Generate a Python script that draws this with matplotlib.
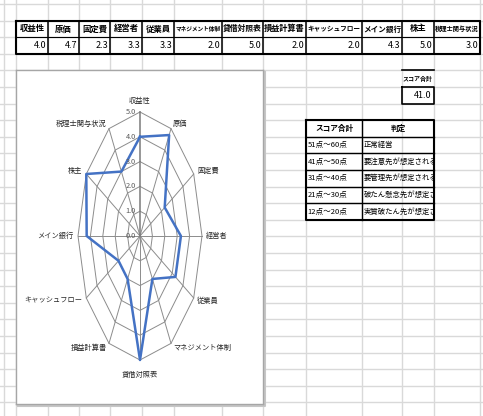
import matplotlib.pyplot as plt
import numpy as np
from matplotlib.transforms import Bbox, TransformedBbox

plt.rcParams['font.family'] = ['Noto Sans CJK JP', 'DejaVu Sans']

# データ
categories = ['収益性', '原価', '固定費', '経営者', '従業員', 'マネジメント体制',
              '貸借対照表', '損益計算書', 'キャッシュフロー', 'メイン銀行', '株主', '税理士関与状況']
scores = [4.0, 4.7, 2.3, 3.3, 3.3, 2.0, 5.0, 2.0, 2.0, 4.3, 5.0, 3.0]
total_score = 41.0
score_ranges = ['51点～60点', '41点～50点', '31点～40点', '21点～30点', '12点～20点']
judgements = ['正常経営', '要注意先が想定される', '要管理先が想定される',
              '破たん懸念先が想定される', '実質破たん先が想定される']
ticks = [0.0, 1.0, 2.0, 3.0, 4.0, 5.0]

W, H = 483, 416
fig = plt.figure(figsize=(W / 100, H / 100), dpi=100)
sheet = fig.add_axes([0, 0, 1, 1])
sheet.set_xlim(0, W)
sheet.set_ylim(H, 0)
sheet.axis('off')

# シートの枠線
col_x = [4, 16, 48, 79, 110, 142, 174, 222, 263, 306, 362, 402, 434, 480]
row_h = 16.6
row_y = 4 + row_h * np.arange(26)
grid_c = '#d9d9d9'
for x in col_x:
    sheet.plot([x, x], [0, H], color=grid_c, lw=1, zorder=1)
for y in row_y:
    sheet.plot([0, W], [y, y], color=grid_c, lw=1, zorder=1)


def box(x0, x1, y0, y1, lw=1.0):
    sheet.plot([x0, x1, x1, x0, x0], [y0, y0, y1, y1, y0], color='black', lw=lw, zorder=3)


# 上の表
hx = col_x[1:]
y0, y1, y2 = row_y[1], row_y[2], row_y[3]
for i, (name, v) in enumerate(zip(categories, scores)):
    xl, xr = hx[i], hx[i + 1]
    fs = min(6.0, (xr - xl) / (len(name) * 1.39) * 0.95)
    sheet.text((xl + xr) / 2, (y0 + y1) / 2, name, ha='center', va='center',
               fontsize=fs, fontweight='bold', zorder=4)
    sheet.text(xr - 2, (y1 + y2) / 2, f'{v:.1f}', ha='right', va='center',
               fontsize=6.5, zorder=4)
    sheet.plot([xr, xr], [y0, y2], color='black', lw=1.1, zorder=3)
sheet.plot([hx[0], hx[-1]], [y1, y1], color='black', lw=0.8, zorder=3)
box(hx[0], hx[-1], y0, y2, lw=1.5)

# スコア合計
sx0, sx1 = col_x[11], col_x[12]
sheet.plot([sx0, sx1], [row_y[4], row_y[4]], color='black', lw=1.2, zorder=3)
sheet.text((sx0 + sx1) / 2, (row_y[4] + row_y[5]) / 2, 'スコア合計', ha='center', va='center',
           fontsize=4.3, fontweight='bold', zorder=4)
box(sx0, sx1, row_y[5], row_y[6], lw=1.2)
sheet.text(sx1 - 2, (row_y[5] + row_y[6]) / 2, f'{total_score:.1f}', ha='right', va='center',
           fontsize=6.5, zorder=4)

# 判定表
jx0, jx1, jx2 = col_x[9], col_x[10], col_x[12]
ty = row_y[7:14]
sheet.text((jx0 + jx1) / 2, (ty[0] + ty[1]) / 2, 'スコア合計', ha='center', va='center',
           fontsize=5.5, fontweight='bold', zorder=4)
sheet.text((jx1 + jx2) / 2, (ty[0] + ty[1]) / 2, '判定', ha='center', va='center',
           fontsize=5.5, fontweight='bold', zorder=4)
for k, (rng, jd) in enumerate(zip(score_ranges, judgements)):
    ya, yb = ty[k + 1], ty[k + 2]
    sheet.text(jx0 + 1.5, (ya + yb) / 2, rng, ha='left', va='center', fontsize=5.5, zorder=4)
    t = sheet.text(jx1 + 1.5, (ya + yb) / 2, jd, ha='left', va='center', fontsize=5.3, zorder=4)
    # セル幅で切る
    t.set_clip_box(TransformedBbox(Bbox.from_extents(jx1, ya, jx2 - 1, yb), sheet.transData))
    t.set_clip_on(True)
    sheet.plot([jx0, jx2], [ya, ya], color='black', lw=1.0, zorder=3)
sheet.plot([jx1, jx1], [ty[0], ty[-1]], color='black', lw=1.0, zorder=3)
box(jx0, jx2, ty[0], ty[-1], lw=1.5)

# レーダーチャート
cl, cr, ct, cb = 16, 263, row_y[4], 404
cx, cy = 140, 236
ux, uy = 62 / 5, 124 / 5
sheet.plot([cl + 2, cr + 1.5, cr + 1.5], [cb + 1.5, cb + 1.5, ct + 2], color='#c6c6c6', lw=1.5, zorder=2)
ax = fig.add_axes([cl / W, 1 - cb / H, (cr - cl) / W, (cb - ct) / H])
ax.set_xlim((cl - cx) / ux, (cr - cx) / ux)
ax.set_ylim(-(cb - cy) / uy, (cy - ct) / uy)
ax.set_xticks([])
ax.set_yticks([])
for sp in ax.spines.values():
    sp.set_color('#a6a6a6')
    sp.set_linewidth(1)

angles = np.linspace(0, 2 * np.pi, len(categories), endpoint=False)
ring_ang = np.append(angles, angles[0])
for r in ticks[1:]:
    ax.plot(r * np.sin(ring_ang), r * np.cos(ring_ang), color='#8c8c8c', lw=0.7)
for ang in angles[1:]:
    ax.plot([0, 5 * np.sin(ang)], [0, 5 * np.cos(ang)], color='#8c8c8c', lw=0.7)
ax.plot([0, 0], [0, 5], color='#7a7a7a', lw=1.1)

vals = np.append(scores, scores[0])
ax.plot(vals * np.sin(ring_ang), vals * np.cos(ring_ang), color='#4472C4', lw=1.8)

for r in ticks:
    ax.annotate(f'{r:.1f}', (0, r), xytext=(-3, 0), textcoords='offset points',
                ha='right', va='center', fontsize=5.3, color='#595959')

for ang, name in zip(angles, categories):
    s, c = np.sin(ang), np.cos(ang)
    ha = 'center' if abs(s) < 0.1 else ('left' if s > 0 else 'right')
    if c > 0.9:
        va, off = 'bottom', (0, 5)
    elif c < -0.9:
        va, off = 'top', (0, -8)
    else:
        va, off = 'center', (3 * s, 4 * c)
    ax.annotate(name, (5 * s, 5 * c), xytext=off, textcoords='offset points',
                ha=ha, va=va, fontsize=5.2, color='#262626')

fig.savefig('out.png', dpi=100)
